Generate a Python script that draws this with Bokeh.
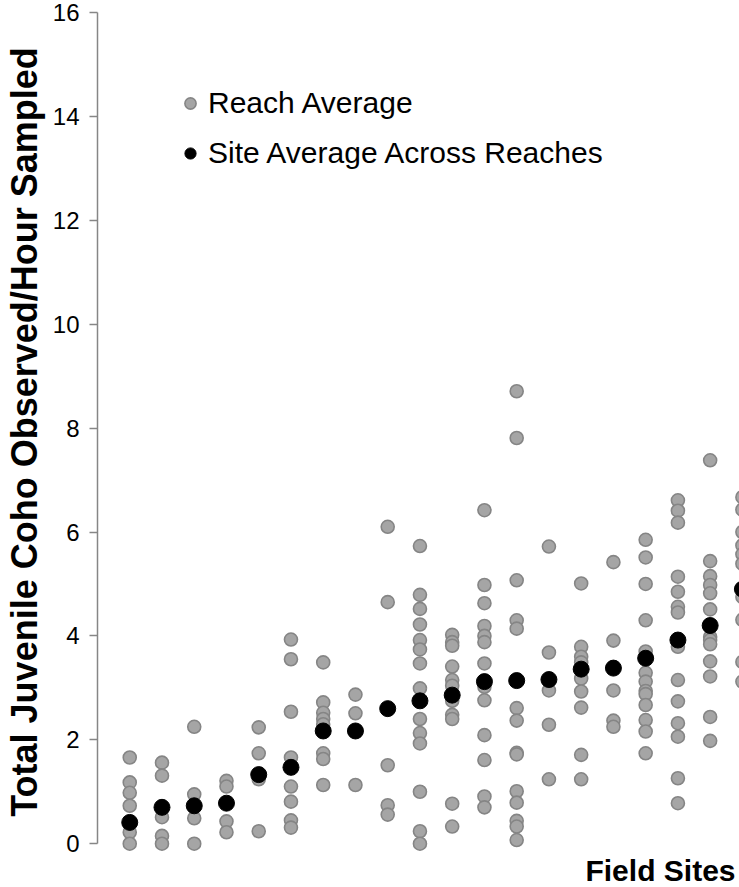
from bokeh.plotting import figure
from bokeh.models import ColumnDataSource, Range1d, Legend, LegendItem, Title, FixedTicker
from bokeh.embed import file_html
from bokeh.resources import INLINE

# ---- data ----
sites = list(range(1, 21))
site_avg = [0.41, 0.70, 0.73, 0.78, 1.33, 1.47, 2.17, 2.17, 2.60, 2.75,
            2.86, 3.12, 3.14, 3.16, 3.36, 3.38, 3.57, 3.92, 4.20, 4.90]
reach_avg = [
    [1.66, 1.18, 0.98, 0.73, 0.22, 0.0],
    [1.56, 1.31, 0.51, 0.15, 0.0],
    [2.25, 0.95, 0.49, 0.0],
    [1.21, 1.10, 0.43, 0.22],
    [2.24, 1.74, 1.24, 0.24],
    [3.93, 3.55, 2.54, 1.66, 1.10, 0.81, 0.45, 0.31],
    [3.49, 2.72, 2.52, 2.40, 2.30, 1.74, 1.63, 1.13],
    [2.87, 2.51, 1.13],
    [6.10, 4.65, 1.51, 0.74, 0.56],
    [5.73, 4.79, 4.52, 4.22, 3.92, 3.74, 3.47, 2.99, 2.40, 2.13, 1.93, 1.00, 0.24, 0.0],
    [4.02, 3.88, 3.81, 3.41, 3.15, 3.04, 2.75, 2.48, 2.40, 0.77, 0.33],
    [6.42, 4.98, 4.63, 4.19, 4.00, 3.88, 3.47, 3.02, 2.76, 2.09, 1.61, 0.91, 0.70],
    [8.71, 7.81, 5.07, 4.30, 4.14, 2.61, 2.37, 1.75, 1.72, 1.01, 0.79, 0.44, 0.33, 0.07],
    [5.72, 3.68, 2.95, 2.29, 1.24],
    [5.01, 3.79, 3.60, 3.49, 3.18, 2.93, 2.62, 1.71, 1.24],
    [5.42, 3.91, 2.95, 2.37, 2.25],
    [5.85, 5.51, 5.00, 4.30, 3.70, 3.29, 3.12, 2.94, 2.88, 2.67, 2.38, 2.16, 1.74],
    [6.61, 6.41, 6.18, 5.14, 4.85, 4.56, 4.45, 3.79, 3.15, 2.74, 2.32, 2.06, 1.26, 0.78],
    [7.38, 5.44, 5.15, 4.98, 4.82, 4.51, 3.98, 3.92, 3.84, 3.51, 3.22, 2.44, 1.98],
    [6.67, 6.43, 6.00, 5.74, 5.57, 5.39, 4.75, 4.31, 3.50, 3.12],
]
y_ticks = [0, 2, 4, 6, 8, 10, 12, 14, 16]

rx, ry = [], []
for s, vals in zip(sites, reach_avg):
    for v in vals:
        rx.append(s)
        ry.append(v)

reach_src = ColumnDataSource(dict(x=rx, y=ry))
site_src = ColumnDataSource(dict(x=sites, y=site_avg))

FONT = "Liberation Sans"

p = figure(width=739, height=887, output_backend="svg", toolbar_location=None,
           x_range=Range1d(0, 19.91), y_range=Range1d(-0.15, 16),
           min_border_left=97, min_border_right=0, min_border_top=12,
           min_border_bottom=36)
p.outline_line_color = None
p.background_fill_color = "white"
p.border_fill_color = "white"
p.xgrid.visible = False
p.ygrid.visible = False
p.xaxis.visible = False

ya = p.yaxis[0]
ya.ticker = FixedTicker(ticks=y_ticks)
ya.bounds = (0, 16)
ya.axis_line_color = "#868686"
ya.axis_line_width = 1.5
ya.major_tick_line_color = "#868686"
ya.major_tick_line_width = 1.5
ya.major_tick_out = 8
ya.major_tick_in = 0
ya.minor_tick_line_color = None
ya.major_label_text_font = FONT
ya.major_label_text_font_size = "24px"
ya.major_label_text_color = "black"
ya.major_label_standoff = 10
ya.axis_label = "Total Juvenile Coho Observed/Hour Sampled"
ya.axis_label_text_font = FONT
ya.axis_label_text_font_size = "36px"
ya.axis_label_text_font_style = "bold"
ya.axis_label_text_color = "black"
ya.axis_label_standoff = 5

r_reach = p.scatter("x", "y", source=reach_src, size=13, marker="circle",
                    fill_color="#A5A5A5", line_color="#858585", line_width=1.6)
r_site = p.scatter("x", "y", source=site_src, size=16, marker="circle",
                   fill_color="black", line_color="black", line_width=1)

legend = Legend(items=[LegendItem(label="Reach Average", renderers=[r_reach]),
                       LegendItem(label="Site Average Across Reaches", renderers=[r_site])],
                location=(79, 680), padding=0, spacing=14, margin=0,
                glyph_width=28, glyph_height=36, label_height=36, label_standoff=4,
                label_text_font=FONT, label_text_font_size="30px",
                label_text_color="black", background_fill_alpha=0,
                border_line_color=None)
p.add_layout(legend)

t = Title(text="Field Sites", align="right", text_font=FONT, text_font_size="30px",
          text_font_style="bold", text_color="black", standoff=0, offset=4)
p.add_layout(t, "below")

open("out.html", "w").write(file_html(p, INLINE))
